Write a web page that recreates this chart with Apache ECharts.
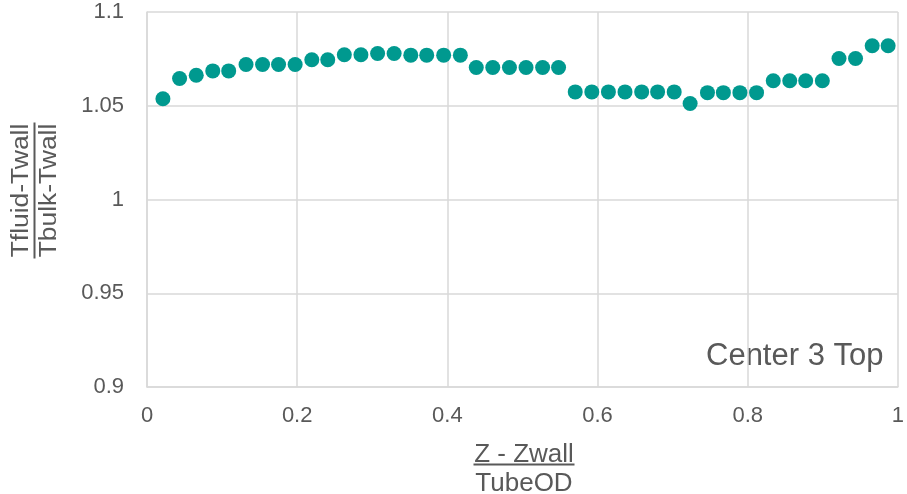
<!DOCTYPE html>
<html>
<head>
<meta charset="utf-8">
<script src="https://cdn.jsdelivr.net/npm/echarts@6/dist/echarts.min.js"></script>
<style>
  html, body { margin: 0; padding: 0; background: #fff; }
  #chart { width: 907px; height: 494px; }
</style>
</head>
<body>
<div id="chart"></div>
<script>
// Normalised axial position (Z - Zwall) / TubeOD
const zPos = [
  0.0212, 0.0434, 0.0656, 0.0876, 0.1088, 0.1319, 0.1539, 0.1752, 0.1973,
  0.2195, 0.2407, 0.2628, 0.2849, 0.3071, 0.3291, 0.3513, 0.3725, 0.3951,
  0.4173, 0.4385, 0.4605, 0.4827, 0.5048, 0.5269, 0.5481, 0.5703, 0.5924,
  0.6145, 0.6366, 0.6588, 0.6800, 0.7021, 0.7233, 0.7464, 0.7676, 0.7896,
  0.8118, 0.8340, 0.8560, 0.8772, 0.8994, 0.9216, 0.9436, 0.9658, 0.9870
];
// Temperature ratio (Tfluid - Twall) / (Tbulk - Twall)
const tempRatio = [
  1.0537, 1.0645, 1.0663, 1.0686, 1.0686, 1.0720, 1.0720, 1.0720, 1.0720,
  1.0745, 1.0745, 1.0772, 1.0772, 1.0779, 1.0779, 1.0770, 1.0770, 1.0770,
  1.0770, 1.0704, 1.0704, 1.0704, 1.0704, 1.0704, 1.0704, 1.0574, 1.0574,
  1.0574, 1.0574, 1.0574, 1.0574, 1.0574, 1.0512, 1.0570, 1.0570, 1.0570,
  1.0570, 1.0633, 1.0633, 1.0633, 1.0633, 1.0752, 1.0752, 1.0820, 1.0820
];
const xTicks = ['0', '0.2', '0.4', '0.6', '0.8', '1'];
const yTicks = ['0.9', '0.95', '1', '1.05', '1.1'];
const panelLabel = 'Center 3 Top';

const points = zPos.map((z, i) => [z, tempRatio[i]]);

const FONT = 'Liberation Sans, Arial, sans-serif';
const TEXT = '#595959';
const GRID = '#d9d9d9';

const chart = echarts.init(document.getElementById('chart'), null, { renderer: 'canvas' });

chart.setOption({
  animation: false,
  backgroundColor: '#ffffff',
  grid: { left: 147, right: 6, top: 12, bottom: 107, containLabel: false },
  xAxis: {
    type: 'value',
    min: 0, max: 1, interval: 0.2,
    axisLine: { show: true, lineStyle: { color: GRID, width: 1.5 } },
    axisTick: { show: false },
    splitLine: { show: true, lineStyle: { color: GRID, width: 1.5 } },
    axisLabel: {
      color: TEXT, fontFamily: FONT, fontSize: 22, margin: 18,
      formatter: v => xTicks[Math.round(v / 0.2)]
    }
  },
  yAxis: {
    type: 'value',
    min: 0.9, max: 1.1, interval: 0.05,
    axisLine: { show: true, lineStyle: { color: GRID, width: 1.5 } },
    axisTick: { show: false },
    splitLine: { show: true, lineStyle: { color: GRID, width: 1.5 } },
    axisLabel: {
      color: TEXT, fontFamily: FONT, fontSize: 22, margin: 23,
      formatter: v => yTicks[Math.round((v - 0.9) / 0.05)]
    }
  },
  series: [{
    type: 'scatter',
    data: points,
    symbol: 'circle',
    symbolSize: 15,
    itemStyle: { color: '#00998f', opacity: 1 }
  }],
  graphic: [
    // y-axis title: numerator over denominator, reading bottom to top
    {
      type: 'group', x: 34.5, y: 190.5, rotation: Math.PI / 2,
      children: [
        { type: 'text', x: 0, y: -1, scaleX: 1.15, style: { text: 'Tfluid-Twall', fill: TEXT, font: '23px ' + FONT, textAlign: 'center', textVerticalAlign: 'bottom' } },
        { type: 'line', shape: { x1: -68, y1: 0, x2: 68, y2: 0 }, style: { stroke: TEXT, lineWidth: 2 } },
        { type: 'text', x: 0, y: 4, scaleX: 1.15, style: { text: 'Tbulk-Twall', fill: TEXT, font: '23px ' + FONT, textAlign: 'center', textVerticalAlign: 'top' } }
      ]
    },
    // x-axis title: numerator over denominator
    {
      type: 'group', x: 524, y: 464.5,
      children: [
        { type: 'text', x: 0, y: 3.5, style: { text: 'Z - Zwall', fill: TEXT, font: '26px ' + FONT, textAlign: 'center', textVerticalAlign: 'bottom' } },
        { type: 'line', shape: { x1: -50.5, y1: 0, x2: 50.5, y2: 0 }, style: { stroke: TEXT, lineWidth: 2 } },
        { type: 'text', x: 0, y: 6, style: { text: 'TubeOD', fill: TEXT, font: '26px ' + FONT, textAlign: 'center', textVerticalAlign: 'top' } }
      ]
    },
    {
      type: 'text', x: 706, y: 372,
      style: { text: panelLabel, fill: TEXT, font: '31px ' + FONT, textAlign: 'left', textVerticalAlign: 'bottom' }
    }
  ]
});
</script>
</body>
</html>
